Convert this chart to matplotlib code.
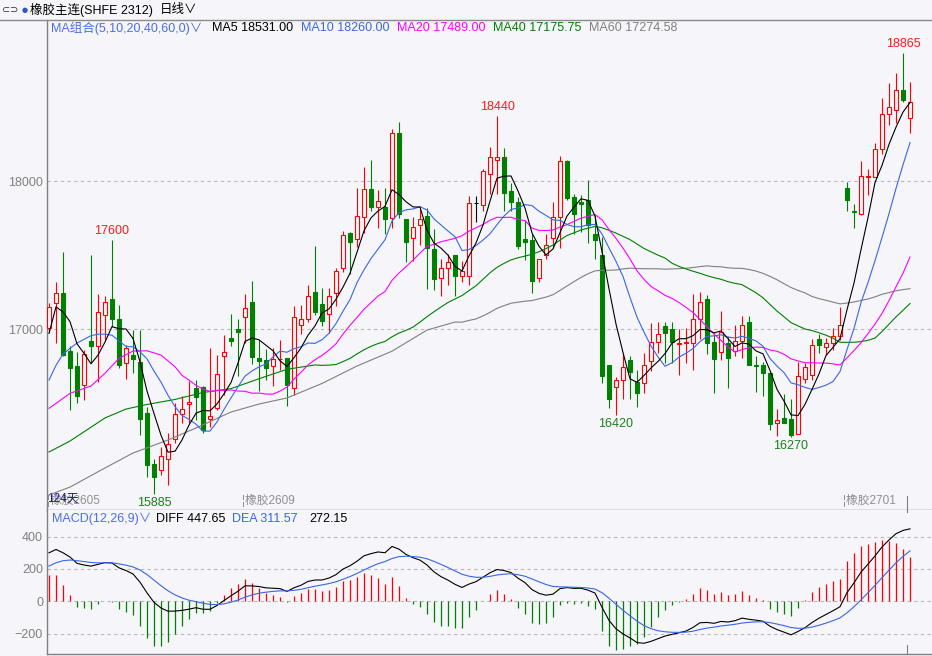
import numpy as np
import pandas as pd
import matplotlib
matplotlib.use("Agg")
import matplotlib.pyplot as plt
from matplotlib.lines import Line2D

plt.rcParams['font.family'] = ['Liberation Sans', 'Noto Sans CJK SC', 'DejaVu Sans']

# Daily bars
opens = [17005, 17175, 17245, 16850, 16750, 16620, 16920, 16885, 17095, 17205,
         17070, 16770, 16825, 16780, 16435, 16085, 16045, 16120, 16255, 16425,
         16495, 16600, 16610, 16395, 16465, 16820, 16940, 17000, 17080, 17180,
         16805, 16790, 16750, 16795, 16805, 16600, 17025, 17065, 17250, 17170,
         17100, 17240, 17410, 17650, 17605, 17760, 17945, 17825, 17825, 17750,
         18325, 17745, 17615, 17700, 17765, 17540, 17345, 17410, 17500, 17360,
         17355, 17850, 17840, 18050, 18145, 18160, 17930, 17860, 17610, 17600,
         17345, 17500, 17615, 17760, 18135, 17890, 17855, 17870, 17645, 17500,
         16755, 16610, 16655, 16790, 16645, 16635, 16785, 16910, 17020, 17000,
         16900, 16905, 16905, 17070, 17200, 16915, 16845, 16905, 16850, 16920,
         17045, 16760, 16755, 16705, 16365, 16400, 16390, 16290, 16665, 16690,
         16930, 16880, 16905, 16950, 17950, 17800, 17780, 18025, 18030, 18215,
         18455, 18480, 18615, 18425]
highs = [17175, 17320, 17520, 16885, 16845, 16860, 17500, 17235, 17225, 17600,
         17165, 16890, 16995, 16995, 16470, 16120, 16205, 16295, 16500, 16545,
         16650, 16655, 16615, 16870, 16825, 16960, 17100, 17070, 17235, 17325,
         16925, 16865, 16875, 16925, 16805, 17155, 17160, 17295, 17560, 17275,
         17280, 17415, 17660, 17655, 17955, 18095, 18140, 17940, 17955, 18350,
         18400, 17745, 17755, 17810, 17820, 17675, 17475, 17505, 17500, 17460,
         17900, 17900, 18080, 18230, 18440, 18220, 17985, 17890, 17735, 17640,
         17475, 17645, 17860, 18170, 18145, 17910, 17905, 18010, 17770, 17625,
         16755, 16675, 16835, 16815, 16725, 16835, 17040, 17045, 17045, 17045,
         17000, 17005, 17235, 17250, 17230, 16970, 17125, 16950, 17025, 17090,
         17085, 16815, 16780, 16710, 16460, 16560, 16525, 16775, 16770, 16935,
         16965, 16940, 17005, 17150, 17990, 17845, 18135, 18080, 18260, 18560,
         18665, 18730, 18865, 18670]
lows = [16980, 16905, 16815, 16455, 16500, 16520, 16770, 16645, 16925, 17015,
        16735, 16665, 16700, 16285, 16000, 15885, 16015, 15945, 16230, 16365,
        16365, 16385, 16295, 16340, 16455, 16555, 16885, 16680, 16905, 16765,
        16580, 16655, 16615, 16725, 16480, 16555, 16965, 17045, 17095, 17020,
        16970, 17155, 17385, 17375, 17555, 17650, 17795, 17680, 17645, 17680,
        17750, 17450, 17460, 17565, 17270, 17265, 17225, 17295, 17220, 17320,
        17295, 17725, 17795, 17910, 17915, 17795, 17795, 17540, 17465, 17240,
        17320, 17470, 17545, 17545, 17870, 17640, 17655, 17580, 17470, 16635,
        16465, 16420, 16530, 16530, 16475, 16570, 16715, 16840, 16770, 16770,
        16690, 16770, 16725, 16935, 16830, 16570, 16790, 16600, 16815, 16805,
        16755, 16575, 16545, 16320, 16280, 16365, 16270, 16290, 16635, 16655,
        16835, 16825, 16860, 16925, 17800, 17680, 17770, 17905, 18030, 18185,
        18380, 18390, 18535, 18325]
closes = [17150, 17240, 16825, 16735, 16550, 16830, 16885, 17115, 17180, 17070,
          16760, 16875, 16795, 16395, 16080, 16000, 16140, 16225, 16425, 16460,
          16505, 16540, 16320, 16410, 16695, 16845, 16920, 16980, 17140, 16810,
          16785, 16735, 16795, 16800, 16620, 17080, 17065, 17225, 17115, 17055,
          17220, 17390, 17635, 17585, 17765, 17945, 17825, 17865, 17745, 18325,
          17780, 17585, 17690, 17740, 17545, 17340, 17415, 17455, 17360, 17390,
          17850, 17850, 18065, 18165, 18165, 17920, 17855, 17560, 17585, 17325,
          17470, 17565, 17760, 18135, 17885, 17775, 17845, 17705, 17600, 16680,
          16525, 16655, 16745, 16710, 16565, 16755, 16910, 16965, 16975, 16915,
          16905, 16915, 17065, 17185, 16905, 16800, 16980, 16805, 16920, 17025,
          16760, 16750, 16705, 16360, 16385, 16365, 16285, 16680, 16740, 16890,
          16890, 16905, 16955, 17030, 17875, 17790, 18035, 18035, 18215, 18455,
          18500, 18615, 18545, 18535]

# MA values on the left edge, before each window is full (bar index, value)
ma5_warm_idx = [0, 1, 2, 3]
ma5_warm = [16970, 17150, 17115, 17050]
ma10_warm_idx = [0, 1, 2, 3, 4, 5, 6, 7, 8]
ma10_warm = [16655, 16755, 16830, 16870, 16905, 16930, 16955, 16965, 16965]
ma20_warm_idx = [0, 3, 6, 8, 10, 12, 14, 16, 18]
ma20_warm = [16464, 16565, 16615, 16701, 16802, 16851, 16853, 16824, 16745]
ma40_warm_idx = [0, 3, 8, 11, 14, 18, 22, 26, 30, 34, 38]
ma40_warm = [16169, 16243, 16399, 16459, 16490, 16524, 16571, 16597, 16664, 16728, 16757]
ma60_warm_idx = [0, 3, 8, 12, 17, 21, 26, 30, 34, 39, 44, 49, 54, 58]
ma60_warm = [15878, 15932, 16061, 16162, 16250, 16331, 16439, 16493, 16534, 16632,
             16750, 16850, 16993, 17047]

# MACD state on the first bar
ema12_start = 16700
ema26_start = 16400
dea_start = 218

# marked highs / lows (bar index)
high_marks = [9, 64, 122]
low_marks = [15, 81, 106]

# contract roll labels (bar position, text)
roll_pos = [-0.3, 27.6, 113.4]
roll_text = ["¦橡胶2605", "¦橡胶2609", "¦橡胶2701"]

BG = "#f5f5fa"
RED = "#ff0000"
GREEN = "#008000"
BLUE = "#3a66e8"
GRAY = "#808080"
W, H = 932, 656


def fx(px):
    return px / W


def fy(py):
    return 1 - py / H


n = len(closes)
x = np.arange(n)
close_s = pd.Series(closes, dtype=float)


def ma_line(window, warm_idx, warm_vals):
    full = close_s.rolling(window).mean()
    xs = list(warm_idx) + list(range(window - 1, n))
    ys = list(warm_vals) + list(full.iloc[window - 1:])
    return xs, ys


# MACD(12,26,9)
c = np.array(closes, dtype=float)
ema12 = np.empty(n)
ema26 = np.empty(n)
dea = np.empty(n)
ema12[0] = ema12_start
ema26[0] = ema26_start
for t in range(1, n):
    ema12[t] = ema12[t - 1] * 11 / 13 + c[t] * 2 / 13
    ema26[t] = ema26[t - 1] * 25 / 27 + c[t] * 2 / 27
diff = ema12 - ema26
dea[0] = dea_start
for t in range(1, n):
    dea[t] = dea[t - 1] * 0.8 + diff[t] * 0.2
hist = 2 * (diff - dea)

fig = plt.figure(figsize=(W / 100, H / 100), dpi=100, facecolor=BG)
ax = fig.add_axes([fx(46.5), fy(510), fx(932) - fx(46.5), (510 - 20) / H])
ax2 = fig.add_axes([fx(46.5), fy(654), fx(932) - fx(46.5), (654 - 510) / H])

for a in (ax, ax2):
    a.set_facecolor(BG)
    a.set_xlim(-0.357, 126.14)
    a.set_xticks([])
    for s in ("top", "right"):
        a.spines[s].set_visible(False)
    a.spines["left"].set_color(GRAY)
    a.spines["bottom"].set_color(GRAY)
    a.spines["left"].set_linewidth(1)
    a.spines["bottom"].set_linewidth(1)
    a.tick_params(axis="y", length=0, pad=2.5, labelcolor=GRAY, labelsize=9)

ax.set_ylim(15777, 19088)
ax2.set_ylim(-326, 565)

# grid
ax.set_yticks([17000, 18000])
for v in [17000, 18000]:
    ax.axhline(v, color="#b8b8b8", lw=0.8, ls=(0, (3, 3)), zorder=1)
ax2.set_yticks([-200, 0, 200, 400])
for v in [-200, 0, 200, 400]:
    ax2.axhline(v, color="#b8b8b8", lw=0.8, ls=(0, (3, 3)), zorder=1)

# candles
cols = []
faces = []
for o, cl in zip(opens, closes):
    if cl > o:
        cols.append(RED)
        faces.append(BG)
    elif cl < o:
        cols.append(GREEN)
        faces.append(GREEN)
    else:
        cols.append("black")
        faces.append("black")
bottoms = np.minimum(opens, closes)
heights = np.abs(np.array(closes) - np.array(opens))
ax.vlines(x, lows, highs, colors=cols, lw=0.8, zorder=3)
ax.bar(x, heights, width=0.66, bottom=bottoms, color=faces, edgecolor=cols,
       linewidth=0.8, zorder=4)

# moving averages
for win, wi, wv, col in [(60, ma60_warm_idx, ma60_warm, GRAY),
                         (40, ma40_warm_idx, ma40_warm, GREEN),
                         (20, ma20_warm_idx, ma20_warm, "#ff00ff"),
                         (10, ma10_warm_idx, ma10_warm, BLUE),
                         (5, ma5_warm_idx, ma5_warm, "black")]:
    xs, ys = ma_line(win, wi, wv)
    ax.plot(xs, ys, color=col, lw=0.8, zorder=5)

# high / low marks
for i in high_marks:
    ax.annotate(f"{highs[i]}", xy=(i, highs[i]), xytext=(0, 9), textcoords="offset pixels",
                ha="center", va="center", color="#ff1a1a", fontsize=9)
for i in low_marks:
    ax.annotate(f"{lows[i]}", xy=(i, lows[i]), xytext=(0, -9), textcoords="offset pixels",
                ha="center", va="center", color="#1a801a", fontsize=9)

# contract roll labels
for p, t in zip(roll_pos, roll_text):
    ax.text(p, 15777 + 10 * 6.757, t, ha="left", va="center", color="#909090", fontsize=8.5)
ax.text(-0.35, 15777 + 11 * 6.757, "124天", ha="left", va="center", color="#1a1a8c", fontsize=8.5)

# MACD panel
hcols = [RED if v > 0 else GREEN for v in hist]
ax2.vlines(x, 0, hist, colors=hcols, lw=0.9, zorder=3)
ax2.plot(x, diff, color="black", lw=0.8, zorder=4)
ax2.plot(x, dea, color=BLUE, lw=0.8, zorder=4)

# frame lines
fig.add_artist(Line2D([0, 1], [fy(20), fy(20)], color="#8c8c8c", lw=1))
fig.add_artist(Line2D([fx(907), fx(907)], [fy(496), fy(512)], color=GRAY, lw=0.8))
fig.add_artist(Line2D([fx(907), fx(907)], [fy(645), fy(654)], color=GRAY, lw=0.8))

# title bar
fig.text(fx(2), fy(10), "⊂⊃", color="#333333", fontsize=7, va="center", ha="left",
         family=["DejaVu Sans"])
fig.text(fx(22), fy(10), "●", color="#2855c8", fontsize=5, va="center", ha="left",
         family=["DejaVu Sans"])
fig.text(fx(30), fy(10), "橡胶主连(SHFE 2312)", color="black", fontsize=9, va="center", ha="left")
fig.text(fx(160), fy(10), "日线∨", color="black", fontsize=9, va="center", ha="left")

# MA header
header = [(51, "MA组合(5,10,20,40,60,0)∨", "#4a6cf0"),
          (212, "MA5 18531.00", "black"),
          (301, "MA10 18260.00", BLUE),
          (397, "MA20 17489.00", "#ff00ff"),
          (493, "MA40 17175.75", GREEN),
          (589, "MA60 17274.58", GRAY)]
for px_, t, col in header:
    fig.text(fx(px_), fy(28), t, color=col, fontsize=9, va="center", ha="left")

# MACD header
macd_header = [(52, "MACD(12,26,9)∨", "#4a6cf0"),
               (156, "DIFF 447.65", "black"),
               (232, "DEA 311.57", BLUE),
               (309, "272.15", "black")]
for px_, t, col in macd_header:
    fig.text(fx(px_), fy(519), t, color=col, fontsize=9, va="center", ha="left")

fig.savefig("out.png", dpi=100, facecolor=BG)
